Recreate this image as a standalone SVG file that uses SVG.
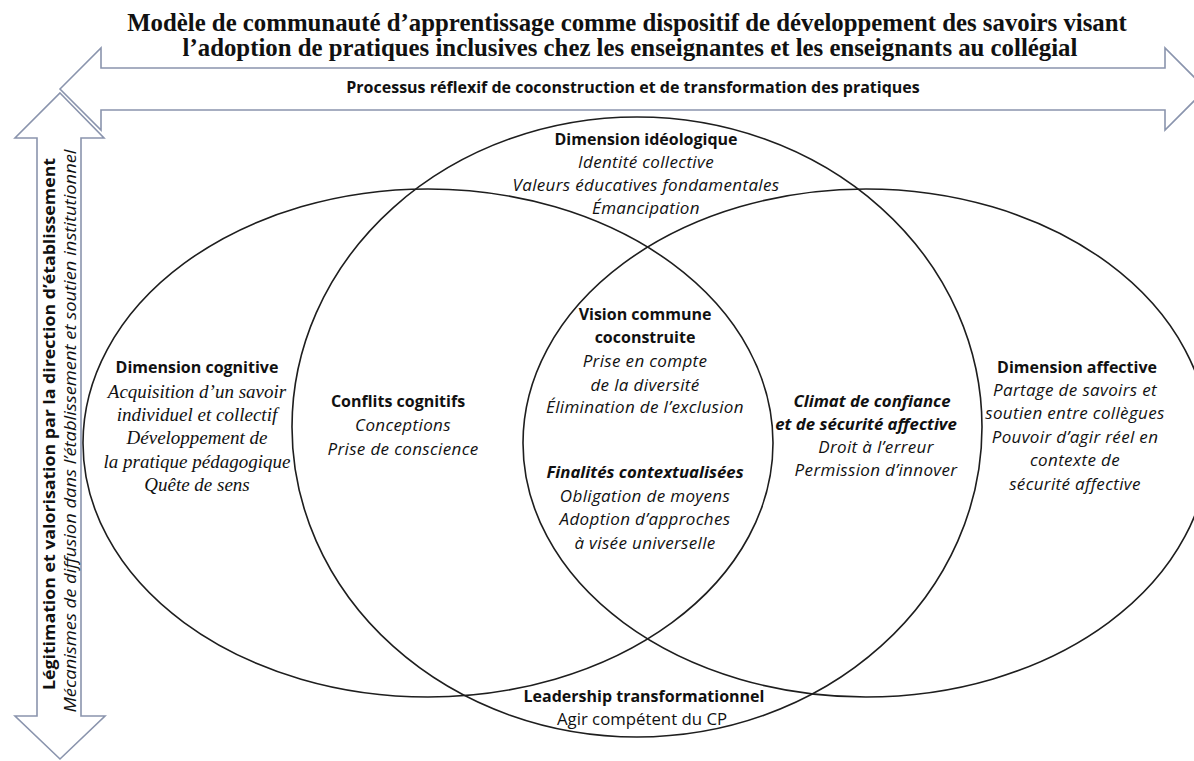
<svg xmlns="http://www.w3.org/2000/svg" width="1194" height="761" viewBox="0 0 1194 761">
<style>
.arrow{fill:#ffffff;stroke:#8a94ad;stroke-width:1.6;stroke-linejoin:miter}
.ring{fill:none;stroke:#1e1e1e;stroke-width:1.6}
.title{font-family:"Liberation Serif","Times New Roman",serif;font-weight:bold;font-size:24.8px;fill:#111;text-anchor:middle}
.t{font-family:"Open Sans","Noto Sans","Liberation Sans",sans-serif;font-size:16px;fill:#111;text-anchor:middle}
.b{font-weight:bold}
.i{font-style:italic;font-size:17px;letter-spacing:0.35px}
.bi{font-weight:bold;font-style:italic;font-size:16.8px}
.r{font-size:16.8px}
.serif{font-family:"Liberation Serif","Times New Roman",serif;font-size:19px;font-style:italic}
</style>
<g id="title">
<text class="title" x="627" y="31">Modèle de communauté d’apprentissage comme dispositif de développement des savoirs visant</text>
<text class="title" x="630" y="56">l’adoption de pratiques inclusives chez les enseignantes et les enseignants au collégial</text>
</g>
<g id="connectors">
<polygon id="arrow-horizontal" class="arrow" points="60,89 101,48 101,68 1165,68 1165,48 1206,89 1165,130 1165,110 101,110 101,130"/>
<polygon id="arrow-vertical" class="arrow" points="60,93 104,138 81,138 81,716 105,716 60,759 15,716 37,716 37,138 15,138"/>
</g>
<g id="arrow-horizontal-label">
<text class="t b" x="633" y="93">Processus réflexif de coconstruction et de transformation des pratiques</text>
</g>
<g id="arrow-vertical-label">
<text class="t b" x="55" y="424" transform="rotate(-90 55 424)" textLength="532" lengthAdjust="spacingAndGlyphs">Légitimation et valorisation par la direction d’établissement</text>
<text class="t" x="76" y="431" transform="rotate(-90 76 431)" font-style="italic" textLength="563" lengthAdjust="spacingAndGlyphs">Mécanismes de diffusion dans l’établissement et soutien institutionnel</text>
</g>
<g id="ellipses">
<ellipse id="ellipse-ideologique" class="ring" cx="637" cy="427" rx="345" ry="310"/>
<ellipse id="ellipse-cognitive" class="ring" cx="428" cy="443" rx="345" ry="254"/>
<ellipse id="ellipse-affective" class="ring" cx="866" cy="443" rx="343" ry="254"/>
</g>
<g id="node-ideologique">
<text class="t b" x="646" y="145">Dimension idéologique</text>
<text class="t i" x="646" y="168">Identité collective</text>
<text class="t i" x="646" y="191">Valeurs éducatives fondamentales</text>
<text class="t i" x="646" y="214">Émancipation</text>
</g>
<g id="node-cognitive">
<text class="t b" x="197" y="373">Dimension cognitive</text>
<text class="t serif" x="197" y="398">Acquisition d’un savoir</text>
<text class="t serif" x="197" y="421">individuel et collectif</text>
<text class="t serif" x="197" y="444">Développement de</text>
<text class="t serif" x="197" y="468">la pratique pédagogique</text>
<text class="t serif" x="197" y="491">Quête de sens</text>
</g>
<g id="node-conflits">
<text class="t b" x="398" y="407">Conflits cognitifs</text>
<text class="t i" x="403" y="431">Conceptions</text>
<text class="t i" x="403" y="455">Prise de conscience</text>
</g>
<g id="node-vision">
<text class="t b" x="645" y="320">Vision commune</text>
<text class="t b" x="645" y="343">coconstruite</text>
<text class="t i" x="645" y="367">Prise en compte</text>
<text class="t i" x="645" y="391">de la diversité</text>
<text class="t i" x="645" y="413">Élimination de l’exclusion</text>
<text class="t bi" x="645" y="478">Finalités contextualisées</text>
<text class="t i" x="645" y="502">Obligation de moyens</text>
<text class="t i" x="645" y="525">Adoption d’approches</text>
<text class="t i" x="645" y="549">à visée universelle</text>
</g>
<g id="node-climat">
<text class="t bi" x="872" y="407">Climat de confiance</text>
<text class="t bi" x="866" y="430">et de sécurité affective</text>
<text class="t i" x="876" y="453">Droit à l’erreur</text>
<text class="t i" x="876" y="476">Permission d’innover</text>
</g>
<g id="node-affective">
<text class="t b" x="1077" y="373">Dimension affective</text>
<text class="t i" x="1075" y="396">Partage de savoirs et</text>
<text class="t i" x="1075" y="419">soutien entre collègues</text>
<text class="t i" x="1075" y="443">Pouvoir d’agir réel en</text>
<text class="t i" x="1075" y="466">contexte de</text>
<text class="t i" x="1075" y="490">sécurité affective</text>
</g>
<g id="node-leadership">
<text class="t b" x="644" y="702">Leadership transformationnel</text>
<text class="t r" x="642" y="725">Agir compétent du CP</text>
</g>
</svg>
